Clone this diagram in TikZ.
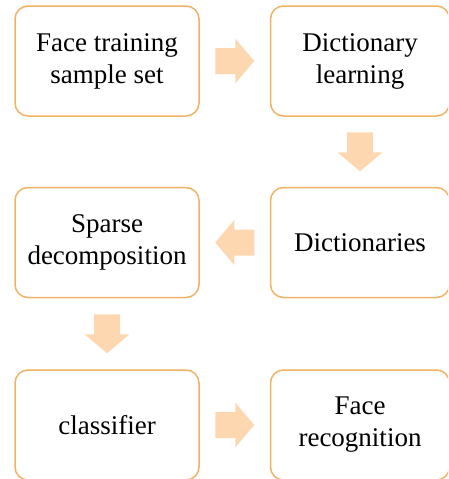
\documentclass[tikz,border=0pt]{standalone}
\usepackage{fontspec}
\setmainfont{Liberation Serif}
\usetikzlibrary{calc}
\definecolor{boxline}{RGB}{240,178,100}
\definecolor{arrowfill}{RGB}{253,215,175}
\begin{document}
\begin{tikzpicture}[x=1pt,y=-1pt,
  stepbox/.style={draw=boxline,line width=1.5pt,rounded corners=13pt,fill=white,
    minimum width=184pt,minimum height=110pt,align=center,inner sep=0pt,
    font=\fontsize{27}{32}\selectfont},
  rightbox/.style={stepbox,minimum width=179pt},
  blockarrow/.pic={\fill[arrowfill] (-19.5,-13) -- (0.5,-13) -- (0.5,-22.5) -- (19.5,0)
      -- (0.5,22.5) -- (0.5,13) -- (-19.5,13) -- cycle;}]
\useasboundingbox (0,0) rectangle (448,479);
\clip (0,0) rectangle (448,479);
\node[stepbox] (a) at (107,61) {Face training\\sample set};
\node[rightbox] (b) at (360,61) {Dictionary\\learning};
\node[rightbox] (c) at (360,242.5) {Dictionaries};
\node[stepbox] (d) at (107,242.5) {Sparse\\decomposition};
\node[stepbox] (e) at (107,425) {classifier};
\node[rightbox] (f) at (360,425) {Face\\recognition};
\coordinate (ab) at ($(a.east)!0.5!(b.west)$);
\coordinate (bc) at ($(b.south)!0.5!(c.north)$);
\coordinate (cd) at ($(c.west)!0.5!(d.east)$);
\coordinate (de) at ($(d.south)!0.5!(e.north)$);
\coordinate (ef) at ($(e.east)!0.5!(f.west)$);
\pic at (ab) {blockarrow};
\pic[rotate=-90] at (bc) {blockarrow};
\pic[rotate=180] at (cd) {blockarrow};
\pic[rotate=-90] at (de) {blockarrow};
\pic at (ef) {blockarrow};
\end{tikzpicture}
\end{document}
